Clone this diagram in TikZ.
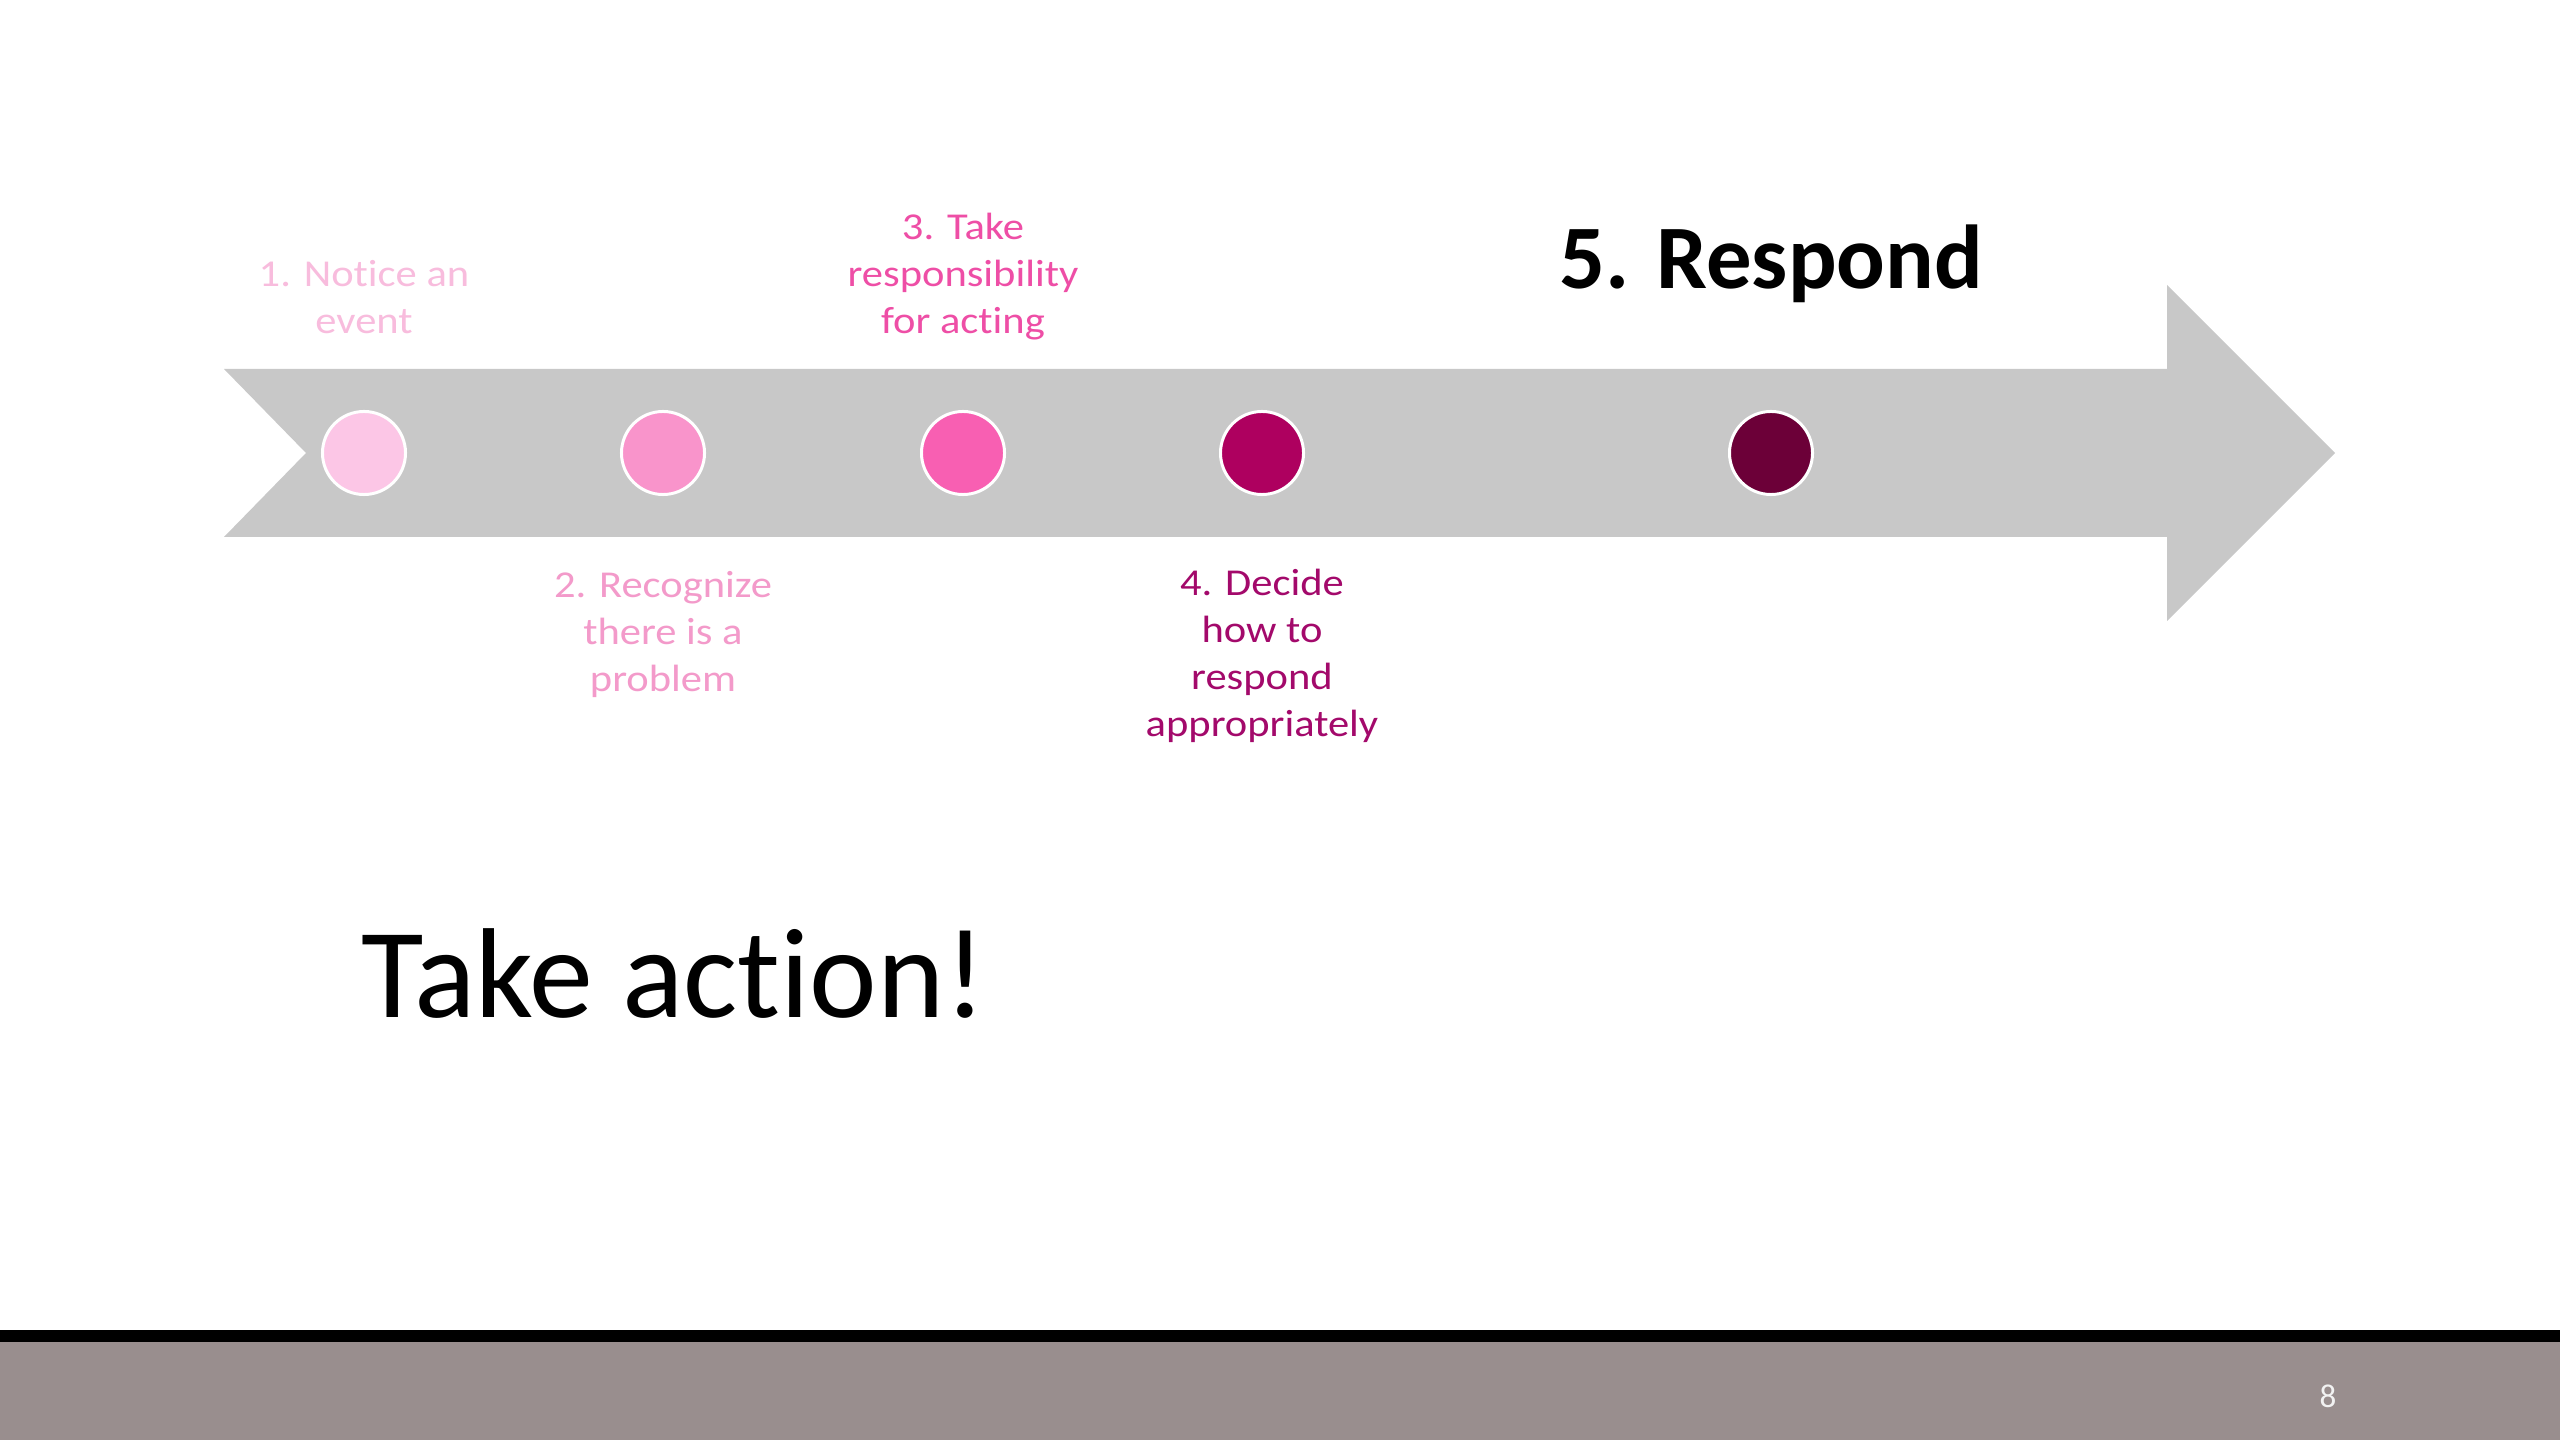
\documentclass[tikz,border=0pt]{standalone}
\usepackage{fontspec}
\setmainfont[Ligatures=NoCommon]{Carlito}
\newfontfamily\lblfont[Ligatures=NoCommon, FakeStretch=1.12]{Carlito}
\definecolor{arrowgray}{HTML}{C8C8C8}
\definecolor{cA}{HTML}{FCC6E6}
\definecolor{cB}{HTML}{F994CB}
\definecolor{cC}{HTML}{F85FB2}
\definecolor{cD}{HTML}{AE005F}
\definecolor{cE}{HTML}{6C0038}
\definecolor{tA}{HTML}{F8BCDD}
\definecolor{tB}{HTML}{F39ACA}
\definecolor{tC}{HTML}{EE4EA6}
\definecolor{tD}{HTML}{A3096B}
\definecolor{bargray}{HTML}{998E8E}
\tikzset{
  dot/.style={circle, draw=white, line width=0.85pt, minimum size=0.83cm, inner sep=0pt},
  lbl/.style={anchor=base, inner sep=0pt, align=center, font=\lblfont\fontsize{10.8pt}{13.4pt}\selectfont},
}
\begin{document}
\begin{tikzpicture}[x=0.01cm,y=-0.01cm]
\useasboundingbox (0,0) rectangle (2560,1440);
\fill[white] (0,0) rectangle (2560,1440);
% arrow
\fill[arrowgray] (224,369) -- (2167,369) -- (2167,285) -- (2335,453) -- (2167,621) -- (2167,537) -- (224,537) -- (306,453) -- cycle;
% dots
\node[dot, fill=cA] (d1) at (364,453) {};
\node[dot, fill=cB] (d2) at (663,453) {};
\node[dot, fill=cC] (d3) at (963,453) {};
\node[dot, fill=cD] (d4) at (1262,453) {};
\node[dot, fill=cE] (d5) at (1771,453) {};
% labels (anchor = baseline of last line)
\node[lbl, text=tA] (l1) at (364,334) {1. Notice an\\event};
\node[lbl, text=tB] (l2) at (663,692) {2. Recognize\\there is a\\problem};
\node[lbl, text=tC] (l3) at (963,334) {3. Take\\responsibility\\for acting};
\node[lbl, text=tD] (l4) at (1262,737) {4. Decide\\how to\\respond\\appropriately};
\node[anchor=base, inner sep=0pt, font=\fontsize{25.8pt}{30pt}\selectfont\bfseries] (l5) at (1771,289) {5. Respond};
% take action
\node[anchor=base west, inner sep=0pt, font=\fontsize{36.4pt}{44pt}\selectfont] (ta) at (361,1017) {Take action!};
% bottom bar
\fill[black] (0,1330) rectangle (2560,1342);
\fill[bargray] (0,1342) rectangle (2560,1440);
\node[text=white!90!gray, font=\fontsize{9.4pt}{11pt}\selectfont, inner sep=0pt] (pg) at (2328,1396) {8};
\end{tikzpicture}
\end{document}
